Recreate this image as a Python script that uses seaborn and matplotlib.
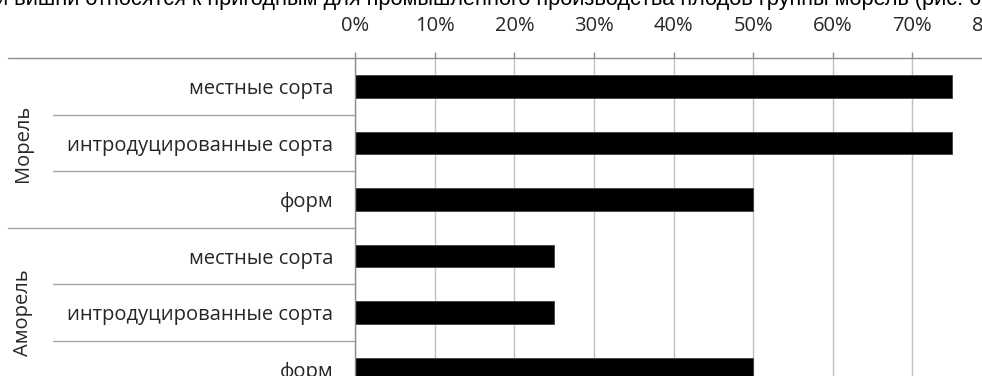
import matplotlib
matplotlib.use("Agg")
import matplotlib.pyplot as plt
import matplotlib.transforms as mtransforms
from matplotlib.lines import Line2D
import seaborn as sns
import pandas as pd

# ---- data ----
groups = ["Морель", "Морель", "Морель", "Аморель", "Аморель", "Аморель"]
categories = ["местные сорта", "интродуцированные сорта", "форм",
              "местные сорта", "интродуцированные сорта", "форм"]
values = [0.75, 0.75, 0.50, 0.25, 0.25, 0.50]
group_names = ["Морель", "Аморель"]
tick_values = [0.0, 0.1, 0.2, 0.3, 0.4, 0.5, 0.6, 0.7, 0.8]
tick_labels = ["0%", "10%", "20%", "30%", "40%", "50%", "60%", "70%", "80%"]
title_text = ("и вишни относятся к пригодным для промышленного производства "
              "плодов группы морель (рис. 6)")

df = pd.DataFrame({
    "key": [f"{g}|{c}" for g, c in zip(groups, categories)],
    "value": values,
})

sns.set_theme(style="white")
plt.rcParams["font.family"] = ["Open Sans", "DejaVu Sans"]

W, H = 982, 376
DPI = 100
fig = plt.figure(figsize=(W / DPI, H / DPI), dpi=DPI)

# axes geometry in pixels
x0_px = 355.3
unit_px = 79.57          # per 10%
top_px = 58.3
cat_px = 56.5
ax_w = 8 * unit_px
ax_h = 6 * cat_px
ax = fig.add_axes([x0_px / W, (H - top_px - ax_h) / H, ax_w / W, ax_h / H])

sns.barplot(data=df, x="value", y="key", orient="h", color="black",
            width=0.4, saturation=1, ax=ax, edgecolor="#404040", linewidth=0.6)

ax.set_xlim(0, 0.8)
ax.set_ylim(5.5, -0.5)
ax.set_xlabel("")
ax.set_ylabel("")

text_col = "#262626"
axis_col = "#8c8c8c"
grid_col = "#c0c0c0"
fs = 14.5

ax.xaxis.tick_top()
ax.set_xticks(tick_values)
ax.set_xticklabels(tick_labels, fontsize=fs, color=text_col)
ax.tick_params(axis="x", direction="out", length=4.3, width=1, color=axis_col,
               pad=12, top=True, bottom=False)
ax.set_yticks(range(len(categories)))
ax.set_yticklabels(categories, fontsize=fs, color=text_col)
ax.tick_params(axis="y", length=0, pad=16)

ax.set_axisbelow(True)
ax.grid(axis="x", color=grid_col, lw=1)
ax.grid(axis="y", visible=False)
for s in ["right", "bottom"]:
    ax.spines[s].set_visible(False)
for s in ["top", "left"]:
    ax.spines[s].set_color(axis_col)
    ax.spines[s].set_linewidth(1)

# separators in label area (x in figure pixels, y in data)
trans = mtransforms.blended_transform_factory(
    mtransforms.Affine2D().scale(1.0 / W, 1.0) + fig.transFigure, ax.transData)
sep_col = "#a6a6a6"
for yv in [-0.5, 2.5, 5.5]:
    ax.add_line(Line2D([8, x0_px], [yv, yv], transform=trans,
                       color=axis_col if yv < 0 else sep_col, lw=1, clip_on=False))
for yv in [0.5, 1.5, 3.5, 4.5]:
    ax.add_line(Line2D([52.7, x0_px], [yv, yv], transform=trans, color=sep_col,
                       lw=1, clip_on=False))

# group labels
for gi, g in enumerate(group_names):
    ax.text(23, gi * 3 + 1, g, transform=trans, rotation=90, ha="center",
            va="center", fontsize=fs, color=text_col)

# cut-off title line at the very top
fig.text(-4 / W, (H - 5) / H, title_text, fontfamily=["Liberation Sans", "DejaVu Sans"],
         fontsize=15.7, color="black", ha="left", va="baseline")

fig.savefig("out.png", dpi=DPI)
